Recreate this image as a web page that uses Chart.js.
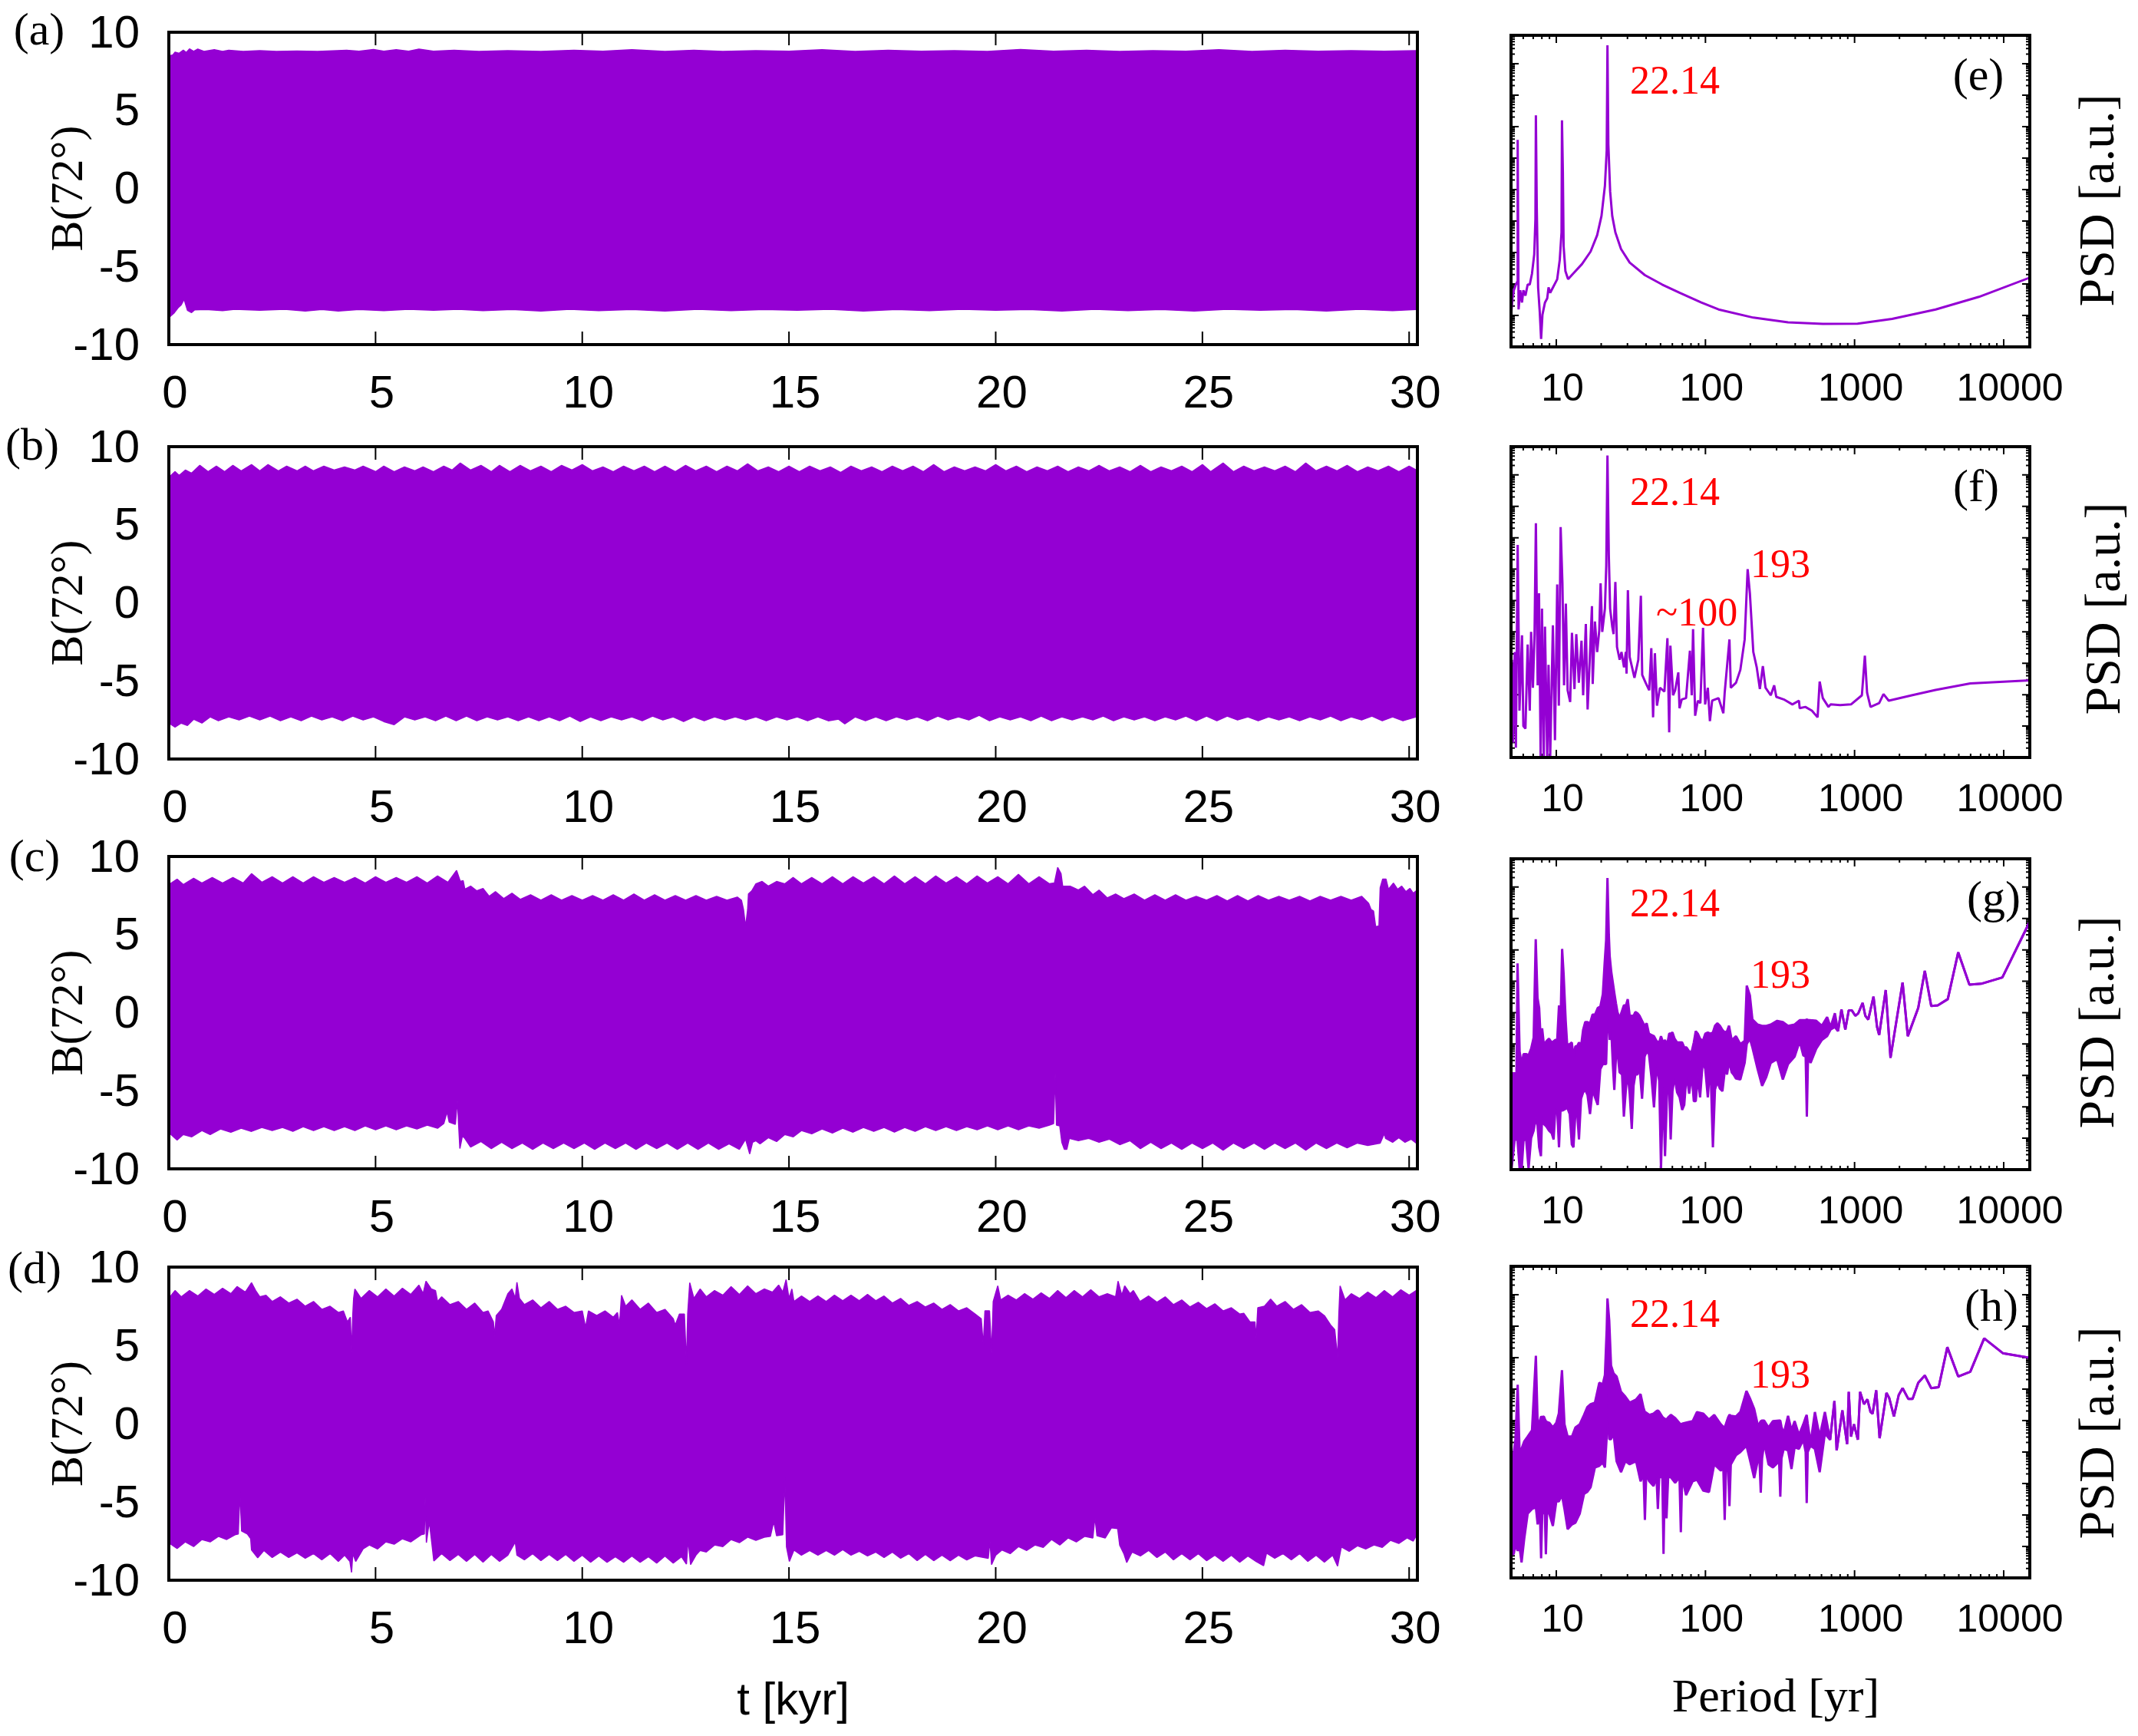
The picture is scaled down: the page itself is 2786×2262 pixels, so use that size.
<!DOCTYPE html>
<html lang="en">
<head>
  <meta charset="UTF-8" />
  <title>B(72) time series and PSD</title>
  <style>
    html, body { margin: 0; background: #fff; }
    #page { position: relative; width: 2786px; height: 2262px; overflow: hidden; background: #fff; }
    canvas { position: absolute; }
  </style>
</head>
<body>
  <div id="page"></div>

  <script src="https://cdn.jsdelivr.net/npm/chart.js"></script>
  <script>
    const timeTicks = [0, 5, 10, 15, 20, 25, 30];
    const fieldTicks = [-10, -5, 0, 5, 10];
    const periodTicks = [10, 100, 1000, 10000];

    // envelopes of the oscillation, [t in kyr, B] (a)-(d)
    const upperA = [[0.03,8.5],[0.1,8.55],[0.15,8.72],[0.25,8.65],[0.35,8.85],[0.42,8.7],[0.5,8.93],[0.6,8.78],[0.7,8.92],[0.85,8.77],[1.1,8.88],[1.3,8.77],[1.45,8.85],[1.8,8.77],[2.2,8.82],[2.6,8.77],[3.1,8.8],[3.6,8.77],[4.3,8.85],[4.6,8.78],[4.95,8.9],[5.2,8.78],[5.5,8.88],[5.8,8.78],[6.05,8.92],[6.4,8.78],[6.9,8.85],[7.5,8.77],[8.2,8.82],[9,8.77],[9.8,8.85],[10.5,8.78],[11.2,8.88],[12,8.77],[12.7,8.85],[13.4,8.77],[14.2,8.82],[15,8.78],[15.8,8.88],[16.6,8.77],[17.4,8.85],[18.2,8.78],[19,8.82],[19.8,8.77],[20.6,8.9],[21.4,8.78],[22.2,8.85],[23,8.77],[23.8,8.82],[24.6,8.78],[25.4,8.88],[26.2,8.77],[27,8.85],[27.8,8.78],[28.6,8.82],[29.4,8.78],[30.17,8.82]];
    const lowerA = [[0.03,-8.2],[0.12,-8],[0.22,-7.65],[0.3,-7.45],[0.37,-7.1],[0.45,-7.8],[0.55,-7.95],[0.62,-7.78],[0.9,-7.75],[1.3,-7.82],[1.6,-7.74],[2.2,-7.8],[2.8,-7.74],[3.3,-7.85],[3.7,-7.75],[4.1,-7.85],[4.6,-7.75],[5.2,-7.82],[5.8,-7.74],[6.4,-7.8],[7,-7.74],[7.6,-7.82],[8.3,-7.75],[9,-7.85],[9.7,-7.74],[10.4,-7.82],[11.2,-7.75],[12,-7.85],[12.8,-7.74],[13.6,-7.82],[14.4,-7.75],[15.2,-7.8],[16,-7.74],[16.8,-7.85],[17.6,-7.75],[18.4,-7.82],[19.2,-7.74],[20,-7.8],[20.8,-7.75],[21.6,-7.85],[22.4,-7.74],[23.2,-7.82],[24,-7.75],[24.8,-7.85],[25.6,-7.74],[26.4,-7.8],[27.2,-7.75],[28,-7.85],[28.8,-7.74],[29.6,-7.82],[30.17,-7.75]];

    const upperB = [[0.03,8.1],[0.15,8.4],[0.25,8.15],[0.4,8.5],[0.55,8.3],[0.75,8.8],[0.95,8.4],[1.15,8.75],[1.35,8.4],[1.55,8.8],[1.75,8.45],[2,8.85],[2.2,8.45],[2.4,8.85],[2.65,8.45],[2.85,8.75],[3.1,8.45],[3.3,8.75],[3.5,8.45],[3.75,8.75],[4,8.5],[4.25,8.7],[4.5,8.5],[4.7,8.75],[5,8.4],[5.2,8.75],[5.45,8.4],[5.7,8.7],[5.95,8.45],[6.15,8.7],[6.4,8.4],[6.65,8.75],[6.85,8.5],[7.05,8.95],[7.3,8.5],[7.55,8.8],[7.8,8.4],[8,8.8],[8.25,8.4],[8.5,8.8],[8.75,8.45],[9,8.75],[9.25,8.4],[9.5,8.8],[9.75,8.5],[10,8.85],[10.25,8.45],[10.5,8.7],[10.75,8.4],[11,8.75],[11.25,8.45],[11.5,8.75],[11.75,8.4],[12,8.75],[12.25,8.4],[12.5,8.8],[12.75,8.45],[13,8.75],[13.25,8.4],[13.5,8.75],[13.75,8.45],[14,8.9],[14.25,8.45],[14.5,8.7],[14.75,8.4],[15,8.75],[15.25,8.4],[15.5,8.75],[15.75,8.45],[16,8.7],[16.25,8.35],[16.5,8.75],[16.75,8.45],[17,8.7],[17.25,8.4],[17.5,8.75],[17.75,8.45],[18,8.75],[18.25,8.4],[18.5,8.85],[18.75,8.4],[19,8.7],[19.25,8.45],[19.5,8.7],[19.75,8.45],[20,8.85],[20.25,8.45],[20.5,8.75],[20.75,8.4],[21,8.7],[21.25,8.45],[21.5,8.75],[21.75,8.4],[22,8.7],[22.25,8.45],[22.5,8.8],[22.75,8.45],[23,8.7],[23.25,8.4],[23.5,8.8],[23.75,8.4],[24,8.7],[24.25,8.45],[24.5,8.75],[24.75,8.4],[25,8.85],[25.2,8.4],[25.5,8.95],[25.75,8.4],[26,8.75],[26.25,8.45],[26.5,8.7],[26.75,8.45],[27,8.75],[27.25,8.4],[27.5,8.95],[27.75,8.45],[28,8.75],[28.25,8.45],[28.5,8.8],[28.75,8.4],[29,8.7],[29.25,8.45],[29.5,8.75],[29.75,8.4],[30,8.75],[30.17,8.5]];
    const lowerB = [[0.03,-7.75],[0.15,-7.95],[0.3,-7.7],[0.45,-7.85],[0.6,-7.45],[0.8,-7.7],[1,-7.3],[1.2,-7.55],[1.45,-7.3],[1.7,-7.5],[1.95,-7.25],[2.2,-7.5],[2.45,-7.25],[2.7,-7.55],[2.95,-7.3],[3.2,-7.55],[3.45,-7.25],[3.7,-7.5],[3.95,-7.3],[4.2,-7.55],[4.45,-7.25],[4.7,-7.5],[4.95,-7.3],[5.2,-7.6],[5.45,-7.8],[5.7,-7.3],[5.95,-7.5],[6.2,-7.3],[6.45,-7.55],[6.7,-7.25],[6.95,-7.55],[7.2,-7.25],[7.45,-7.55],[7.7,-7.3],[7.95,-7.5],[8.2,-7.3],[8.45,-7.55],[8.7,-7.3],[8.95,-7.55],[9.2,-7.3],[9.45,-7.55],[9.7,-7.25],[9.95,-7.6],[10.2,-7.3],[10.45,-7.55],[10.7,-7.3],[10.95,-7.5],[11.2,-7.3],[11.45,-7.55],[11.7,-7.25],[11.95,-7.5],[12.2,-7.3],[12.45,-7.6],[12.7,-7.3],[12.95,-7.55],[13.2,-7.3],[13.45,-7.5],[13.7,-7.3],[13.95,-7.5],[14.2,-7.3],[14.45,-7.55],[14.7,-7.3],[14.95,-7.5],[15.2,-7.3],[15.45,-7.55],[15.7,-7.3],[15.95,-7.55],[16.2,-7.45],[16.35,-7.75],[16.6,-7.3],[16.85,-7.55],[17.1,-7.3],[17.35,-7.55],[17.6,-7.3],[17.85,-7.5],[18.1,-7.3],[18.35,-7.55],[18.6,-7.25],[18.85,-7.5],[19.1,-7.3],[19.35,-7.5],[19.6,-7.2],[19.85,-7.55],[20.1,-7.3],[20.35,-7.5],[20.6,-7.3],[20.85,-7.55],[21.1,-7.25],[21.35,-7.55],[21.6,-7.3],[21.85,-7.5],[22.1,-7.3],[22.35,-7.5],[22.6,-7.25],[22.85,-7.55],[23.1,-7.3],[23.35,-7.5],[23.6,-7.3],[23.85,-7.55],[24.1,-7.3],[24.35,-7.5],[24.6,-7.25],[24.85,-7.55],[25.1,-7.25],[25.35,-7.55],[25.6,-7.25],[25.85,-7.5],[26.1,-7.3],[26.35,-7.55],[26.6,-7.3],[26.85,-7.5],[27.1,-7.3],[27.35,-7.55],[27.6,-7.3],[27.85,-7.5],[28.1,-7.25],[28.35,-7.55],[28.6,-7.3],[28.85,-7.5],[29.1,-7.25],[29.35,-7.55],[29.6,-7.3],[29.85,-7.55],[30.17,-7.3]];

    const upperC = [[0.03,8.25],[0.2,8.55],[0.35,8.2],[0.6,8.6],[0.8,8.3],[1.05,8.65],[1.3,8.3],[1.55,8.65],[1.8,8.3],[2,8.9],[2.25,8.35],[2.5,8.7],[2.75,8.3],[3,8.7],[3.25,8.3],[3.5,8.7],[3.75,8.35],[4,8.65],[4.25,8.35],[4.5,8.65],[4.75,8.3],[5,8.7],[5.25,8.35],[5.5,8.65],[5.75,8.35],[6,8.7],[6.25,8.3],[6.5,8.75],[6.75,8.35],[6.96,9.1],[7.05,8.4],[7.12,8.45],[7.16,7.9],[7.3,8.1],[7.45,7.8],[7.6,7.95],[7.75,7.45],[7.9,7.75],[8.1,7.3],[8.3,7.65],[8.5,7.25],[8.75,7.55],[9,7.2],[9.25,7.55],[9.5,7.2],[9.75,7.5],[10,7.2],[10.25,7.5],[10.5,7.2],[10.75,7.55],[11,7.2],[11.25,7.6],[11.5,7.2],[11.75,7.55],[12,7.2],[12.25,7.5],[12.5,7.2],[12.75,7.5],[13,7.2],[13.25,7.45],[13.5,7.2],[13.75,7.4],[13.85,7.2],[13.9,6.6],[13.95,5.5],[14,6.6],[14.02,7.6],[14.1,7.8],[14.2,8.25],[14.35,8.4],[14.5,8.1],[14.7,8.4],[14.9,8.25],[15.1,8.65],[15.3,8.25],[15.55,8.65],[15.8,8.25],[16.05,8.7],[16.3,8.25],[16.55,8.7],[16.8,8.3],[17.05,8.7],[17.3,8.25],[17.55,8.75],[17.8,8.25],[18.05,8.7],[18.3,8.25],[18.55,8.75],[18.8,8.3],[19.05,8.7],[19.3,8.25],[19.55,8.75],[19.8,8.3],[20.05,8.7],[20.3,8.25],[20.55,8.85],[20.8,8.25],[21.05,8.7],[21.3,8.25],[21.42,8.3],[21.5,9.3],[21.58,8.9],[21.62,8.1],[21.8,8.1],[22,7.85],[22.15,8.1],[22.35,7.55],[22.5,7.85],[22.7,7.35],[22.9,7.6],[23.1,7.3],[23.35,7.6],[23.6,7.2],[23.85,7.55],[24.1,7.2],[24.35,7.55],[24.6,7.2],[24.85,7.45],[25.1,7.2],[25.35,7.5],[25.6,7.15],[25.85,7.5],[26.1,7.15],[26.35,7.5],[26.6,7.2],[26.85,7.45],[27.1,7.2],[27.35,7.45],[27.6,7.15],[27.85,7.45],[28.1,7.2],[28.35,7.45],[28.6,7.2],[28.85,7.45],[29.02,7],[29.08,6.6],[29.14,6.5],[29.19,5.5],[29.27,5.55],[29.3,8],[29.36,8.55],[29.44,8.55],[29.5,7.9],[29.62,8.3],[29.72,7.9],[29.82,8.1],[29.92,7.75],[30.02,7.95],[30.1,7.65],[30.17,7.8]];
    const lowerC = [[0.03,-7.75],[0.2,-8.15],[0.35,-7.8],[0.55,-7.95],[0.8,-7.55],[1,-7.8],[1.25,-7.45],[1.5,-7.65],[1.75,-7.4],[2,-7.6],[2.25,-7.35],[2.5,-7.55],[2.75,-7.35],[3,-7.6],[3.25,-7.3],[3.5,-7.55],[3.75,-7.3],[4,-7.55],[4.25,-7.3],[4.5,-7.55],[4.75,-7.25],[5,-7.5],[5.25,-7.25],[5.5,-7.5],[5.75,-7.25],[6,-7.45],[6.25,-7.2],[6.5,-7.4],[6.65,-7.1],[6.73,-6.35],[6.78,-7],[6.93,-7.15],[6.98,-5.6],[7.01,-7.2],[7.04,-8.7],[7.1,-7.9],[7.16,-8.05],[7.3,-8.6],[7.55,-8.25],[7.8,-8.7],[8.05,-8.3],[8.3,-8.7],[8.55,-8.35],[8.8,-8.75],[9.05,-8.35],[9.3,-8.7],[9.55,-8.35],[9.8,-8.7],[10.05,-8.35],[10.3,-8.75],[10.55,-8.35],[10.8,-8.7],[11.05,-8.35],[11.3,-8.75],[11.55,-8.35],[11.8,-8.7],[12.05,-8.35],[12.3,-8.75],[12.55,-8.35],[12.8,-8.75],[13.05,-8.35],[13.3,-8.75],[13.55,-8.4],[13.8,-8.75],[13.95,-8.1],[14.05,-9.05],[14.12,-8.3],[14.2,-8.2],[14.3,-8.4],[14.5,-8],[14.7,-8.25],[14.9,-7.8],[15.1,-7.95],[15.3,-7.55],[15.55,-7.75],[15.8,-7.45],[16.05,-7.7],[16.3,-7.4],[16.55,-7.65],[16.8,-7.35],[17.05,-7.6],[17.3,-7.35],[17.55,-7.65],[17.8,-7.35],[18.05,-7.6],[18.3,-7.3],[18.55,-7.55],[18.8,-7.3],[19.05,-7.55],[19.3,-7.3],[19.55,-7.5],[19.8,-7.25],[20.05,-7.5],[20.3,-7.25],[20.55,-7.5],[20.8,-7.25],[21.05,-7.4],[21.3,-7.2],[21.4,-7.1],[21.44,-3.9],[21.47,-7.2],[21.55,-7.25],[21.6,-8.3],[21.66,-8.75],[21.72,-8.75],[21.78,-8.05],[22,-8.2],[22.25,-8.05],[22.5,-8.3],[22.75,-8.1],[23,-8.45],[23.25,-8.2],[23.5,-8.7],[23.75,-8.3],[24,-8.7],[24.25,-8.35],[24.5,-8.75],[24.75,-8.35],[25,-8.7],[25.25,-8.35],[25.5,-8.8],[25.75,-8.35],[26,-8.7],[26.25,-8.35],[26.5,-8.75],[26.75,-8.35],[27,-8.7],[27.25,-8.35],[27.5,-8.8],[27.75,-8.35],[28,-8.7],[28.25,-8.35],[28.5,-8.65],[28.75,-8.35],[29,-8.5],[29.3,-8.35],[29.4,-7.74],[29.43,-8.05],[29.6,-8.3],[29.75,-8],[29.9,-8.3],[30.05,-8.1],[30.17,-8.35]];

    const upperD = [[0.03,8.1],[0.15,8.5],[0.3,8.1],[0.5,8.5],[0.7,8.15],[0.9,8.6],[1.1,8.25],[1.3,8.65],[1.5,8.3],[1.65,8.75],[1.85,8.4],[2,9],[2.1,8.5],[2.2,8.1],[2.35,8.2],[2.5,7.8],[2.7,8.1],[2.9,7.7],[3.1,7.95],[3.3,7.5],[3.5,7.8],[3.7,7.3],[3.9,7.5],[4.1,7.1],[4.22,7.2],[4.32,6.5],[4.39,6.8],[4.42,4.5],[4.45,7],[4.47,8],[4.5,8.6],[4.65,8],[4.85,8.5],[5.05,8.1],[5.25,8.6],[5.45,8.15],[5.65,8.65],[5.85,8.25],[6.05,8.85],[6.15,8.3],[6.22,9.1],[6.35,8.6],[6.45,8.5],[6.5,7.8],[6.6,8.1],[6.8,7.6],[7,7.8],[7.2,7.3],[7.4,7.7],[7.6,7.1],[7.72,7.2],[7.85,6.5],[7.88,5.6],[7.92,6.9],[8.05,7.3],[8.2,8.3],[8.3,8.6],[8.38,8],[8.42,9.03],[8.48,8],[8.6,7.6],[8.8,7.9],[9,7.4],[9.2,7.8],[9.4,7.3],[9.6,7.5],[9.8,7.1],[10,7.2],[10.08,6.15],[10.15,7.2],[10.35,6.9],[10.55,7.2],[10.75,6.8],[10.85,7.1],[10.9,6.3],[10.95,8.2],[11.05,7.5],[11.2,7.9],[11.4,7.3],[11.6,7.7],[11.8,7.1],[12,7.3],[12.2,6.7],[12.25,6.3],[12.35,7],[12.47,7],[12.52,3.8],[12.55,7],[12.6,9],[12.7,8],[12.85,8.6],[13,8.1],[13.2,8.5],[13.4,8.2],[13.6,8.75],[13.8,8.25],[14,8.8],[14.2,8.3],[14.4,8.6],[14.6,8.4],[14.75,8.85],[14.85,8.4],[14.93,9.2],[15,8],[15.07,8.6],[15.12,7.8],[15.3,8.15],[15.5,7.8],[15.7,8.15],[15.9,7.8],[16.1,8.2],[16.3,7.85],[16.5,8.2],[16.7,7.85],[16.9,8.25],[17.1,7.85],[17.3,8.15],[17.5,7.7],[17.7,8],[17.9,7.55],[18.1,7.8],[18.3,7.45],[18.5,7.7],[18.7,7.3],[18.9,7.6],[19.1,7.2],[19.3,7.4],[19.5,7],[19.65,6.7],[19.7,5],[19.74,7.2],[19.85,7.2],[19.9,4.5],[19.94,7.8],[20.05,8.8],[20.12,7.9],[20.3,8.2],[20.5,7.9],[20.7,8.3],[20.9,7.95],[21.1,8.35],[21.3,8],[21.5,8.5],[21.7,8.05],[21.9,8.5],[22.1,8.1],[22.3,8.55],[22.5,8.1],[22.7,8.3],[22.9,8.1],[22.96,9.1],[23.05,8.2],[23.12,8.8],[23.25,8.3],[23.33,8.5],[23.49,7.8],[23.7,8.15],[23.9,7.75],[24.1,8.1],[24.3,7.6],[24.5,7.9],[24.7,7.45],[24.9,7.75],[25.1,7.35],[25.3,7.65],[25.5,7.2],[25.7,7.4],[25.9,7],[26,7.05],[26.15,6.5],[26.27,6.5],[26.3,5.5],[26.34,7.4],[26.5,7.5],[26.65,7.95],[26.8,7.5],[27,7.8],[27.2,7.3],[27.4,7.6],[27.6,7.1],[27.8,7.2],[27.95,6.9],[28.1,6.3],[28.2,6],[28.27,4.2],[28.3,7],[28.33,8.8],[28.45,7.9],[28.6,8.3],[28.8,8],[29,8.4],[29.2,8.05],[29.4,8.5],[29.6,8.1],[29.8,8.55],[30,8.2],[30.17,8.5]];
    const lowerD = [[0.03,-7.67],[0.2,-7.97],[0.4,-7.55],[0.6,-7.85],[0.8,-7.4],[1,-7.55],[1.2,-7.2],[1.4,-7.4],[1.6,-7.1],[1.68,-7.05],[1.72,-4.35],[1.76,-6.85],[1.9,-7.05],[1.98,-7.35],[2,-8.07],[2.15,-8.57],[2.3,-8.1],[2.5,-8.55],[2.7,-8.2],[2.9,-8.55],[3.1,-8.25],[3.3,-8.6],[3.5,-8.3],[3.7,-8.7],[3.9,-8.3],[4.1,-8.8],[4.25,-8.4],[4.38,-8.8],[4.42,-9.5],[4.45,-8.3],[4.52,-8.8],[4.7,-8],[4.85,-7.75],[5.05,-8],[5.25,-7.55],[5.45,-7.7],[5.65,-7.35],[5.85,-7.55],[6.1,-7.1],[6.18,-7.05],[6.2,-4.75],[6.23,-7.6],[6.3,-6.25],[6.36,-7.6],[6.41,-8.77],[6.6,-8.3],[6.8,-8.75],[7,-8.35],[7.2,-8.8],[7.4,-8.35],[7.6,-8.85],[7.8,-8.35],[8,-8.8],[8.2,-8.4],[8.38,-7.56],[8.42,-8.4],[8.6,-8.7],[8.8,-8.3],[9,-8.75],[9.2,-8.35],[9.4,-8.75],[9.6,-8.35],[9.8,-8.8],[10,-8.4],[10.2,-8.85],[10.4,-8.45],[10.6,-8.85],[10.8,-8.5],[11,-8.85],[11.2,-8.45],[11.4,-8.85],[11.6,-8.5],[11.8,-8.9],[12,-8.45],[12.2,-8.9],[12.4,-8.5],[12.52,-8.97],[12.56,-7.4],[12.62,-9],[12.75,-8.4],[12.85,-8.1],[13,-8.2],[13.2,-7.75],[13.4,-7.85],[13.6,-7.4],[13.8,-7.6],[14,-7.25],[14.2,-7.45],[14.4,-7.26],[14.55,-7.2],[14.63,-6.25],[14.7,-7.16],[14.85,-7.1],[14.9,-3.38],[14.94,-7.87],[15.01,-8.8],[15.12,-8.07],[15.3,-8.4],[15.5,-8.1],[15.7,-8.4],[15.9,-8.1],[16.1,-8.4],[16.3,-8.05],[16.5,-8.4],[16.7,-8.15],[16.9,-8.45],[17.1,-8.2],[17.3,-8.55],[17.5,-8.2],[17.7,-8.6],[17.9,-8.3],[18.1,-8.75],[18.3,-8.35],[18.5,-8.75],[18.7,-8.4],[18.9,-8.75],[19.1,-8.4],[19.3,-8.7],[19.5,-8.45],[19.82,-8.6],[19.86,-7.46],[19.9,-9],[20,-8.4],[20.15,-8.07],[20.35,-8.3],[20.55,-7.85],[20.75,-8.1],[20.95,-7.75],[21.15,-7.9],[21.35,-7.4],[21.55,-7.75],[21.75,-7.3],[21.95,-7.55],[22.15,-7.2],[22.35,-7.3],[22.4,-5.96],[22.45,-7.16],[22.65,-7.3],[22.8,-6.65],[22.95,-6.7],[23,-7.77],[23.1,-8.3],[23.17,-8.87],[23.3,-8.2],[23.5,-8.45],[23.7,-8.1],[23.9,-8.55],[24.1,-8.2],[24.3,-8.7],[24.5,-8.3],[24.7,-8.7],[24.9,-8.3],[25.1,-8.75],[25.3,-8.4],[25.5,-8.8],[25.7,-8.4],[25.9,-8.85],[26.1,-8.45],[26.3,-8.8],[26.48,-9.07],[26.55,-8.27],[26.75,-8.6],[26.95,-8.3],[27.15,-8.7],[27.35,-8.3],[27.55,-8.8],[27.75,-8.4],[27.95,-8.85],[28.15,-8.4],[28.27,-9.1],[28.36,-7.87],[28.55,-8.15],[28.75,-7.8],[28.95,-8],[29.15,-7.75],[29.35,-7.9],[29.55,-7.45],[29.75,-7.65],[29.95,-7.3],[30.1,-7.5],[30.17,-7.16]];

    // spectra, [log10 period, log10 PSD] with PSD in decades above the bottom of the frame
    const psdE = [[0.697,1.02],[0.706,1.54],[0.715,1.8],[0.729,1.98],[0.738,2.07],[0.741,6.58],[0.747,1.19],[0.758,1.8],[0.77,1.41],[0.779,1.8],[0.793,1.63],[0.808,1.98],[0.822,1.98],[0.837,2.33],[0.852,2.94],[0.86,4.07],[0.863,7.36],[0.869,4.42],[0.878,1.89],[0.889,1.11],[0.898,0.25],[0.907,1.02],[0.924,1.41],[0.939,1.54],[0.948,1.89],[0.959,1.72],[0.983,1.94],[1.006,2.15],[1.023,2.76],[1.035,3.64],[1.038,7.2],[1.044,5.55],[1.049,3.2],[1.061,2.41],[1.079,2.15],[1.113,2.33],[1.172,2.63],[1.23,3.03],[1.274,3.55],[1.303,4.16],[1.326,5.12],[1.338,6.25],[1.343,9.58],[1.349,6.43],[1.361,4.94],[1.375,4.16],[1.396,3.64],[1.434,3.11],[1.492,2.68],[1.594,2.28],[1.71,1.98],[1.826,1.72],[1.972,1.41],[2.088,1.19],[2.321,0.93],[2.554,0.78],[2.787,0.73],[3.02,0.74],[3.252,0.89],[3.544,1.19],[3.834,1.59],[4.18,2.21]];

    const psdF = [[0.697,0.47],[0.703,3.11],[0.709,0.47],[0.721,3.36],[0.729,0.31],[0.741,6.77],[0.753,1.49],[0.77,3.89],[0.779,1],[0.793,0.92],[0.808,3.6],[0.822,1.49],[0.831,4],[0.843,2.22],[0.854,3.93],[0.863,7.46],[0.875,2.3],[0.884,5.23],[0.895,0],[0.904,4.74],[0.916,0],[0.924,4.17],[0.939,0],[0.948,2.95],[0.959,0],[0.977,4.21],[0.991,0.55],[1.006,5.51],[1.017,1.65],[1.029,7.34],[1.041,5.55],[1.052,2.3],[1.064,4.9],[1.076,2.14],[1.093,1.77],[1.105,3.97],[1.122,2.18],[1.134,3.93],[1.151,2.38],[1.169,3.72],[1.18,1.98],[1.198,4.25],[1.21,1.53],[1.224,3.11],[1.239,4.82],[1.244,2.34],[1.259,4.33],[1.274,3.36],[1.288,4.05],[1.297,5.55],[1.308,4],[1.326,4.74],[1.335,6.12],[1.343,9.62],[1.352,6.45],[1.361,4.74],[1.375,4.17],[1.384,3.93],[1.396,5.59],[1.407,3.52],[1.425,3.11],[1.437,3.36],[1.454,2.87],[1.466,3.36],[1.471,2.67],[1.48,5.33],[1.492,3.2],[1.524,2.54],[1.55,3.11],[1.567,5.15],[1.576,2.63],[1.599,2.38],[1.623,2.14],[1.637,3.48],[1.649,1.28],[1.661,3.32],[1.675,1.65],[1.695,2.22],[1.725,2.1],[1.745,3.8],[1.757,0.8],[1.765,3.56],[1.783,1.98],[1.797,2.14],[1.818,2.71],[1.826,1.57],[1.841,1.85],[1.87,1.89],[1.896,3.4],[1.908,1.98],[1.917,4.09],[1.931,1.33],[1.949,1.81],[1.966,1.73],[1.984,4.13],[1.998,1.69],[2.016,2.22],[2.03,1.16],[2.045,1.81],[2.088,1.89],[2.12,1.41],[2.129,2.06],[2.161,3.76],[2.17,2.22],[2.205,2.38],[2.234,2.79],[2.263,3.76],[2.283,6],[2.298,5.23],[2.321,3.36],[2.344,2.87],[2.365,2.18],[2.385,2.91],[2.403,2.22],[2.438,1.98],[2.461,2.3],[2.475,1.93],[2.525,1.85],[2.583,1.69],[2.627,1.81],[2.632,1.57],[2.67,1.61],[2.714,1.49],[2.752,1.28],[2.766,2.42],[2.787,1.89],[2.825,1.61],[2.839,1.69],[2.903,1.67],[2.976,1.69],[3.049,1.98],[3.069,3.24],[3.084,2.06],[3.107,1.61],[3.165,1.73],[3.194,2.02],[3.229,1.81],[3.383,1.98],[3.543,2.15],[3.776,2.36],[4.18,2.46]];

    // (g) and (h) are too dense to follow: [log10 period, top of the mass, bottom of the mass]
    const psdG = [[0.7,3.07,0.03],[0.72,3.07,0.92],[0.733,3.1,1],[0.74,6.57,0.92],[0.754,3.76,0.03],[0.768,3.35,0.03],[0.78,3.68,0.92],[0.797,3.68,1],[0.814,3.64,0.03],[0.831,3.85,1],[0.848,4.2,1.24],[0.862,7.34,1.65],[0.874,5.47,1.41],[0.885,5.15,0.71],[0.897,3.97,0.43],[0.905,4.5,1.8],[0.917,3.97,1.45],[0.934,4.09,1.37],[0.951,4.17,1.24],[0.969,4.05,1.16],[0.982,4.09,0.96],[0.994,4.13,1.94],[1.006,4.13,1.9],[1.018,5.23,0.71],[1.029,4.82,1.98],[1.039,7.03,1.88],[1.049,6.24,1.9],[1.063,4.74,1.94],[1.073,3.97,1.98],[1.09,4,1.77],[1.104,4.05,0.8],[1.115,3.6,0.71],[1.128,3.93,1.8],[1.14,3.93,1.8],[1.152,4.05,0.96],[1.166,3.93,2.26],[1.18,4.46,2.46],[1.194,4.7,2.54],[1.209,4.7,2.38],[1.226,4.66,1.77],[1.243,4.94,2.54],[1.26,4.94,2.3],[1.278,5.15,2.06],[1.295,5.19,3.2],[1.312,5.59,3.36],[1.324,6.57,3.36],[1.334,7.3,3.36],[1.343,9.29,4.78],[1.352,7.5,4.78],[1.358,6.8,4.13],[1.369,6.28,4.41],[1.379,5.96,3.36],[1.389,5.63,2.54],[1.4,5.3,3.6],[1.41,5.02,3.76],[1.424,4.82,3.1],[1.441,5.06,3.03],[1.453,5.23,1.69],[1.467,5.23,2.58],[1.479,5.43,3.1],[1.492,4.9,2.42],[1.506,4.9,1.3],[1.518,4.9,2.67],[1.53,5.02,3.03],[1.544,4.98,3.03],[1.558,4.9,3.27],[1.575,4.74,2.26],[1.592,4.58,3.6],[1.606,4.66,3.76],[1.621,4.33,3.68],[1.638,4.29,2.95],[1.655,4.25,1.98],[1.673,4.09,3.32],[1.69,4.05,2.83],[1.702,4.25,0.03],[1.716,4.05,2.71],[1.729,4.13,0.43],[1.743,3.97,2.5],[1.757,4.33,2.55],[1.767,4.33,0.96],[1.779,4.37,2.5],[1.793,4.17,2.95],[1.81,4.05,2.46],[1.827,4.05,2.3],[1.844,4.05,1.9],[1.858,3.89,2.06],[1.873,3.89,3.03],[1.891,3.76,2.42],[1.908,3.76,3.03],[1.922,4.05,2.18],[1.935,4.41,2.18],[1.949,4.33,2.95],[1.964,4.17,2.3],[1.982,4.09,3.44],[1.999,4.33,3.2],[2.016,4.37,2.3],[2.033,4.33,3.44],[2.05,4.37,0.71],[2.064,4.58,2.55],[2.08,4.66,2.8],[2.097,4.58,2.58],[2.114,4.45,2.5],[2.131,4.37,3.2],[2.145,4.41,3.03],[2.158,4.58,3.44],[2.176,4.13,3.1],[2.188,4.17,3.03],[2.205,4.25,2.9],[2.234,4,2.87],[2.263,4.1,3.4],[2.277,5.86,4],[2.298,5.55,4.17],[2.315,4.78,3.89],[2.35,4.62,3.2],[2.38,4.58,2.67],[2.408,4.58,2.95],[2.438,4.62,3.4],[2.481,4.74,3.52],[2.519,4.7,2.87],[2.554,4.58,3.36],[2.598,4.62,3.6],[2.632,4.76,4.09],[2.656,4.76,3.64],[2.672,4.77,3.6],[2.68,4.78,1.69],[2.688,4.77,3.6],[2.705,4.76,3.4],[2.743,4.74,3.85],[2.781,4.58,4.13],[2.816,4.86,4.25],[2.839,4.54,4.46],[2.868,4.98,4.54],[2.889,4.41,4.41],[2.912,5.1,5.1],[2.938,4.46,4.46],[2.961,5.07,5.07],[2.982,5.07,5.07],[3.005,4.9,4.9],[3.025,4.98,4.98],[3.054,5.31,5.31],[3.072,4.9,4.9],[3.092,4.78,4.78],[3.127,5.51,5.51],[3.151,4.54,4.54],[3.165,4.29,4.29],[3.209,5.72,5.72],[3.241,3.56,3.56],[3.322,5.96,5.96],[3.357,4.25,4.25],[3.427,5.15,5.15],[3.471,6.33,6.33],[3.514,5.21,5.21],[3.558,5.23,5.23],[3.625,5.43,5.43],[3.695,6.92,6.92],[3.77,5.89,5.89],[3.849,5.92,5.92],[3.991,6.12,6.12],[4.18,7.95,7.95]];

    const psdH = [[0.697,3.6,0.72],[0.715,4,0.77],[0.726,4.4,1.06],[0.741,6.14,0.86],[0.753,4.1,1],[0.767,4.1,0.49],[0.785,4.34,1.25],[0.808,4.49,2.04],[0.837,4.69,2.19],[0.863,7.06,2.24],[0.875,4.88,1.7],[0.89,5,2.1],[0.898,5.13,0.62],[0.906,5.1,2.1],[0.916,5.13,2.04],[0.923,5.05,2.1],[0.93,4.98,0.75],[0.938,4.95,2.1],[0.953,4.93,2.04],[0.977,4.78,1.65],[1,4.93,2.43],[1.017,5.23,2.43],[1.038,6.6,2.63],[1.055,4.88,2.18],[1.076,4.49,1.55],[1.105,4.49,1.7],[1.128,4.78,1.75],[1.157,4.88,2.04],[1.186,5.18,2.67],[1.207,5.42,2.73],[1.23,5.52,2.88],[1.259,5.57,3.51],[1.288,6.2,3.56],[1.311,6.15,3.66],[1.326,6.45,3.51],[1.338,7.92,4.49],[1.343,8.88,5.86],[1.355,8.17,4.41],[1.367,6.75,4.41],[1.384,6.5,4.59],[1.404,6.4,3.71],[1.434,5.91,3.36],[1.463,5.76,3.71],[1.492,5.57,3.61],[1.535,5.67,3.71],[1.565,5.84,3.07],[1.585,5.4,3.3],[1.594,5.27,1.84],[1.603,5.25,3.3],[1.623,5.18,3.07],[1.652,5.22,2.92],[1.672,5.3,3.2],[1.681,5.32,2.19],[1.69,5.28,3.2],[1.711,5.12,3.2],[1.719,5.08,0.76],[1.727,5.06,3.1],[1.739,5.03,1.89],[1.75,5.1,3.2],[1.768,5.18,3.2],[1.797,5.08,3.02],[1.826,4.92,3.2],[1.835,4.88,1.45],[1.844,4.9,3.2],[1.87,4.93,2.63],[1.914,4.98,3.07],[1.943,5.27,3.12],[1.986,5.22,2.77],[2.024,5.03,2.73],[2.059,5.18,3.61],[2.103,4.88,3.41],[2.12,4.8,3.5],[2.129,4.78,1.84],[2.138,4.9,3.5],[2.152,5.1,3.5],[2.161,5.18,2.28],[2.17,5.15,3.6],[2.205,5.13,3.9],[2.234,5.27,4],[2.275,5.94,4.2],[2.298,5.71,3.76],[2.327,5.37,3.17],[2.35,4.88,3.71],[2.362,4.9,3.8],[2.371,4.98,2.71],[2.38,5,3.8],[2.394,5,4.29],[2.423,4.78,3.61],[2.452,4.98,3.51],[2.494,5,3.7],[2.502,5,2.58],[2.51,4.8,3.8],[2.525,4.59,4.1],[2.554,5.15,4.05],[2.577,4.69,3.46],[2.598,4.98,4.15],[2.627,4.54,4.1],[2.656,4.88,4.39],[2.672,5.1,4],[2.679,5.18,2.38],[2.686,4.9,4],[2.705,4.29,4.2],[2.734,5.27,4.1],[2.766,4.49,3.36],[2.801,5.27,4.59],[2.836,4.39,4.39],[2.865,5.62,5.62],[2.88,4.05,4.05],[2.918,5.32,5.32],[2.95,4.25,4.25],[2.961,5.91,5.91],[2.976,4.49,4.49],[2.996,4.88,4.88],[3.022,4.39,4.39],[3.037,5.91,5.91],[3.063,5.52,5.52],[3.086,5.67,5.67],[3.107,5.27,5.27],[3.121,5.22,5.22],[3.145,5.96,5.96],[3.168,4.44,4.44],[3.214,5.88,5.88],[3.232,5.72,5.72],[3.264,5.13,5.13],[3.296,5.81,5.81],[3.322,6.03,6.03],[3.36,5.69,5.69],[3.389,5.69,5.69],[3.427,6.2,6.2],[3.471,6.43,6.43],[3.514,6.03,6.03],[3.564,6.06,6.06],[3.622,7.33,7.33],[3.695,6.4,6.4],[3.776,6.55,6.55],[3.869,7.61,7.61],[3.994,7.14,7.14],[4.18,6.99,6.99]];

    const violet = '#9400D3';
    const serif = '"Liberation Serif", serif';
    const sans = '"Liberation Sans", sans-serif';
    const page = document.getElementById('page');

    const psdMajor = [0, 1, 2, 3, 4, 5, 6, 7, 8, 9].map(e => 10 ** e);
    const logMinor = maxExp => {
      const out = [];
      for (let e = 0; e <= maxExp; e++) for (let m = 2; m <= 9; m++) out.push(m * 10 ** e);
      return out;
    };

    // ticks go inward on all four sides, the frame on top of everything
    const framePlugin = {
      id: 'frame',
      beforeDatasetsDraw(chart, args, opts) {
        const { ctx, chartArea: a, scales } = chart;
        const mark = (scale, values, len, lw) => {
          ctx.lineWidth = lw;
          ctx.strokeStyle = '#000';
          ctx.beginPath();
          values.forEach(v => {
            const p = scale.getPixelForValue(v);
            if (scale.isHorizontal()) {
              if (p < a.left || p > a.right) return;
              ctx.moveTo(p, a.bottom); ctx.lineTo(p, a.bottom - len);
              ctx.moveTo(p, a.top); ctx.lineTo(p, a.top + len);
            } else {
              if (p < a.top || p > a.bottom) return;
              ctx.moveTo(a.left, p); ctx.lineTo(a.left + len, p);
              ctx.moveTo(a.right, p); ctx.lineTo(a.right - len, p);
            }
          });
          ctx.stroke();
        };
        mark(scales.x, opts.xMajor, opts.majorLen, 2);
        mark(scales.y, opts.yMajor, opts.majorLen, 2);
        mark(scales.x, opts.xMinor, opts.minorLen, 2);
        mark(scales.y, opts.yMinor, opts.minorLen, 2);
      },
      afterDatasetsDraw(chart, args, opts) {
        const { ctx, chartArea: a } = chart;
        ctx.save();
        ctx.strokeStyle = '#000';
        ctx.lineWidth = 4;
        ctx.strokeRect(a.left, a.top, a.right - a.left, a.bottom - a.top);
        opts.texts.forEach(t => {
          ctx.save();
          ctx.translate(t.x - opts.originX, t.y - opts.originY);
          if (t.rotate) ctx.rotate(-Math.PI / 2);
          ctx.font = t.font;
          ctx.fillStyle = t.color || '#000';
          ctx.textAlign = t.align || 'center';
          ctx.textBaseline = 'middle';
          ctx.fillText(t.text, 0, 0);
          ctx.restore();
        });
        ctx.restore();
      }
    };

    function addCanvas(left, top, width, height) {
      const canvas = document.createElement('canvas');
      canvas.width = width;
      canvas.height = height;
      canvas.style.left = left + 'px';
      canvas.style.top = top + 'px';
      canvas.style.width = width + 'px';
      canvas.style.height = height + 'px';
      page.appendChild(canvas);
      return canvas;
    }

    const lineStyle = {
      borderColor: violet,
      backgroundColor: violet,
      pointRadius: 0,
      tension: 0,
      borderJoinStyle: 'bevel'
    };

    function timePanel(top, bottom, upper, lower, letter, letterX, letterY, xTitle) {
      const originY = top - 42;
      const xHeight = xTitle ? 2262 - bottom : 100;
      const height = 42 + (bottom - top) + xHeight;
      const toXY = rows => rows.map(r => ({ x: r[0], y: r[1] }));
      new Chart(addCanvas(0, originY, 1940, height), {
        type: 'line',
        data: {
          datasets: [
            // the two fills overlap across zero so no seam shows
            { ...lineStyle, data: toXY(upper), borderWidth: 1.5, fill: { value: -1 } },
            { ...lineStyle, data: toXY(lower), borderWidth: 1.5, fill: { value: 1 } }
          ]
        },
        plugins: [framePlugin],
        options: {
          responsive: false,
          devicePixelRatio: 1,
          animation: false,
          layout: { padding: { left: 0, top: 42, right: 93, bottom: 0 } },
          scales: {
            x: {
              type: 'linear', min: 0, max: 30.2,
              afterBuildTicks: s => { s.ticks = timeTicks.map(value => ({ value })); },
              afterFit: s => { s.height = xHeight; s.paddingLeft = 0; s.paddingRight = 0; },
              grid: { display: false, drawTicks: false },
              border: { display: false },
              ticks: { font: { family: sans, size: 60 }, color: '#000', padding: 29, labelOffset: 8, maxRotation: 0, autoSkip: false },
              title: { display: !!xTitle, text: xTitle, font: { family: sans, size: 60 }, color: '#000', padding: { top: 0, bottom: 9 } }
            },
            y: {
              type: 'linear', min: -10, max: 10,
              afterBuildTicks: s => { s.ticks = fieldTicks.map(value => ({ value })); },
              afterFit: s => { s.width = 220; s.paddingTop = 0; s.paddingBottom = 0; },
              grid: { display: false, drawTicks: false },
              border: { display: false },
              ticks: { font: { family: sans, size: 60 }, color: '#000', padding: 38, labelOffset: 3, autoSkip: false },
              title: { display: true, text: 'B(72°)', font: { family: serif, size: 60 }, color: '#000', padding: { top: 55, bottom: 0 } }
            }
          },
          plugins: {
            legend: { display: false },
            tooltip: { enabled: false },
            frame: {
              originX: 0, originY,
              majorLen: 17, minorLen: 0,
              xMajor: timeTicks, xMinor: [], yMajor: fieldTicks, yMinor: [],
              texts: [{ text: letter, x: letterX, y: letterY, font: '60px ' + serif }]
            }
          }
        }
      });
    }

    function psdPanel(top, bottom, hi, lo, texts, xTitle) {
      const originY = top - 42;
      const xHeight = xTitle ? 2262 - bottom : 100;
      const height = 42 + (bottom - top) + xHeight;
      const datasets = [{ ...lineStyle, data: hi, borderWidth: 3, fill: lo ? '+1' : false }];
      if (lo) datasets.push({ ...lineStyle, data: lo, borderWidth: 3, fill: false });
      new Chart(addCanvas(1900, originY, 886, height), {
        type: 'line',
        data: { datasets },
        plugins: [framePlugin],
        options: {
          responsive: false,
          devicePixelRatio: 1,
          animation: false,
          layout: { padding: { left: 69, top: 42, right: 141, bottom: 0 } },
          scales: {
            x: {
              type: 'logarithmic', min: 4.97, max: 14962,
              afterBuildTicks: s => { s.ticks = periodTicks.map(value => ({ value })); },
              afterFit: s => { s.height = xHeight; s.paddingLeft = 0; s.paddingRight = 0; },
              grid: { display: false, drawTicks: false },
              border: { display: false },
              ticks: { font: { family: sans, size: 50 }, color: '#000', padding: 26, labelOffset: 8, maxRotation: 0, autoSkip: false, callback: v => String(v) }
            },
            y: {
              type: 'logarithmic', min: 1, max: 10 ** 9.9,
              afterFit: s => { s.width = 0; },
              grid: { display: false, drawTicks: false },
              border: { display: false },
              ticks: { display: false }
            }
          },
          plugins: {
            legend: { display: false },
            tooltip: { enabled: false },
            frame: {
              originX: 1900, originY,
              majorLen: 10, minorLen: 5,
              xMajor: periodTicks, xMinor: logMinor(4), yMajor: psdMajor, yMinor: logMinor(9),
              texts
            }
          }
        }
      });
    }

    const redLabel = (text, x, y) => ({ text, x, y, font: '52px ' + serif, color: '#f00', align: 'left' });
    const letterLabel = (text, x, y) => ({ text, x, y, font: '60px ' + serif });
    const psdLabel = (x, y) => ({ text: 'PSD [a.u.]', x, y, font: '66px ' + serif, rotate: true });
    const toPoints = rows => rows.map(r => ({ x: 10 ** r[0], y: 10 ** r[1] }));
    const toLower = rows => rows.map(r => ({ x: 10 ** r[0], y: 10 ** r[2] }));

    timePanel(42, 449, upperA, lowerA, '(a)', 51, 42);
    timePanel(582, 989, upperB, lowerB, '(b)', 42, 583);
    timePanel(1116, 1523, upperC, lowerC, '(c)', 45, 1119);
    timePanel(1651, 2059, upperD, lowerD, '(d)', 45, 1656, 't [kyr]');

    psdPanel(46, 452, toPoints(psdE), null, [
      redLabel('22.14', 2124, 108), letterLabel('(e)', 2578, 101), psdLabel(2737, 261)
    ]);
    psdPanel(582, 987, toPoints(psdF), null, [
      redLabel('22.14', 2124, 644), redLabel('193', 2281, 738), redLabel('~100', 2158, 801),
      letterLabel('(f)', 2575, 637), psdLabel(2745, 793)
    ]);
    psdPanel(1119, 1524, toPoints(psdG), toLower(psdG), [
      redLabel('22.14', 2124, 1180), redLabel('193', 2281, 1273),
      letterLabel('(g)', 2598, 1173), psdLabel(2737, 1332)
    ]);
    psdPanel(1650, 2056, toPoints(psdH), toLower(psdH), [
      redLabel('22.14', 2124, 1715), redLabel('193', 2281, 1794),
      letterLabel('(h)', 2595, 1705), psdLabel(2737, 1867),
      { text: 'Period [yr]', x: 2314, y: 2214, font: '62px ' + serif }
    ], true);
  </script>
</body>
</html>
